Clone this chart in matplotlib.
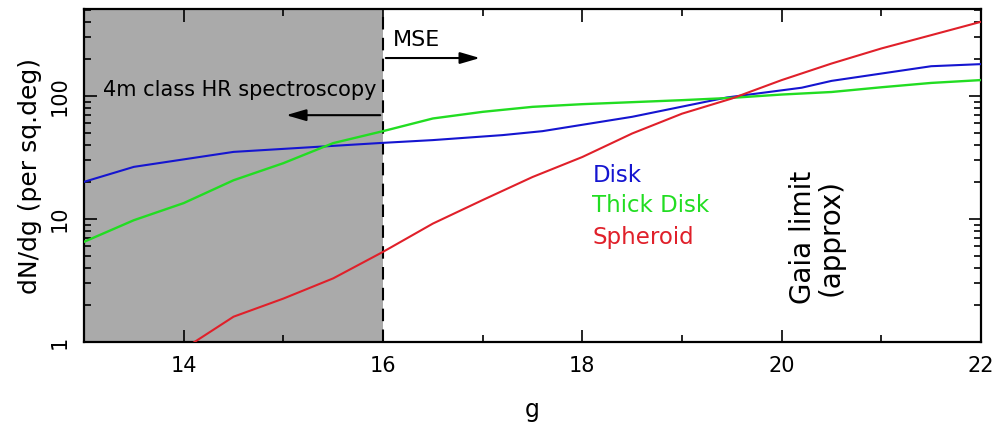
import numpy as np
import matplotlib
matplotlib.use('Agg')
import matplotlib.pyplot as plt
from matplotlib.ticker import LogLocator, FixedLocator, NullFormatter

# star counts per magnitude
g_disk = [13.0, 13.5, 14.5, 16.0, 16.5, 17.2, 17.6, 18.5, 19.45, 20.2, 20.5, 21.5, 22.0]
disk = [20.1, 26.6, 35.2, 41.7, 43.9, 48.2, 51.9, 67.9, 97.5, 117, 133, 175, 182]

g_thick = [13.0, 13.5, 14.0, 14.5, 15.0, 15.5, 16.0, 16.5, 17.0, 17.5, 18.0, 19.0, 19.5, 20.0, 20.5, 21.0, 21.5, 22.0]
thick = [6.54, 9.8, 13.5, 20.7, 28.5, 41.5, 51.9, 65.8, 74.5, 81.8, 86, 92.7, 96.8, 103, 108, 118, 128, 135]

g_sph = [14.0, 14.5, 15.0, 15.5, 16.0, 16.5, 17.0, 17.5, 18.0, 18.5, 19.0, 19.5, 20.0, 20.5, 21.0, 21.5, 22.0]
sph = [0.88, 1.61, 2.26, 3.3, 5.42, 9.2, 14.3, 22, 32, 49.7, 72, 95.6, 135, 184, 244, 313, 402]

g_cut = 16.0
xmin, xmax = 13, 22
ymin, ymax = 1, 510

plt.rcParams['font.family'] = ['DejaVu Sans']

fig = plt.figure(figsize=(9.98, 4.32), dpi=100)
ax = fig.add_axes([0.0842, 0.208, 0.8988, 0.771])

ax.axvspan(xmin, g_cut, color='#aaaaaa', lw=0, zorder=0)
ax.axvline(g_cut, color='black', ls=(0, (6, 4)), lw=1.5, zorder=1)

ax.plot(g_disk, disk, color='#1515d0', lw=1.5, zorder=3)
ax.plot(g_thick, thick, color='#22dd22', lw=1.7, zorder=3)
ax.plot(g_sph, sph, color='#e0202a', lw=1.5, zorder=3)

ax.set_yscale('log')
ax.set_xlim(xmin, xmax)
ax.set_ylim(ymin, ymax)

ax.xaxis.set_major_locator(FixedLocator([14, 16, 18, 20, 22]))
ax.xaxis.set_minor_locator(FixedLocator([13, 15, 17, 19, 21]))
ax.yaxis.set_major_locator(LogLocator(base=10, numticks=10))
ax.yaxis.set_minor_locator(LogLocator(base=10, subs=np.arange(2, 10), numticks=10))
ax.yaxis.set_minor_formatter(NullFormatter())
ax.set_yticks([1, 10, 100])
ax.set_yticklabels(['1', '10', '100'], rotation=90, va='center')

ax.tick_params(which='both', direction='in', top=True, right=True, labelsize=15, width=1.2)
ax.tick_params(which='major', length=9, pad=10)
ax.tick_params(which='minor', length=5)
for s in ax.spines.values():
    s.set_linewidth(1.6)

ax.set_xlabel('g', fontsize=17, labelpad=16)
ax.set_ylabel('dN/dg (per sq.deg)', fontsize=18, labelpad=6)

# survey regions
ax.text(16.1, 285, 'MSE', fontsize=16, ha='left', va='center')
ax.annotate('', xy=(17.0, 204), xytext=(g_cut, 204),
            arrowprops=dict(arrowstyle='-|>,head_length=1.2,head_width=0.35', color='black', lw=1.5))
ax.text(15.93, 112, '4m class HR spectroscopy', fontsize=15, ha='right', va='center')
ax.annotate('', xy=(15.0, 70), xytext=(g_cut, 70),
            arrowprops=dict(arrowstyle='-|>,head_length=1.2,head_width=0.35', color='black', lw=1.5))

# labels for the curves
ax.text(18.1, 22.8, 'Disk', color='#1515d0', fontsize=16.5, ha='left', va='center')
ax.text(18.1, 13.0, 'Thick Disk', color='#22dd22', fontsize=16.5, ha='left', va='center')
ax.text(18.1, 7.1, 'Spheroid', color='#e0202a', fontsize=16.5, ha='left', va='center')

ax.text(20.35, 7.1, 'Gaia limit\n(approx)', fontsize=20, rotation=90,
        ha='center', va='center', linespacing=1.0)

fig.savefig('out.png', dpi=100)
